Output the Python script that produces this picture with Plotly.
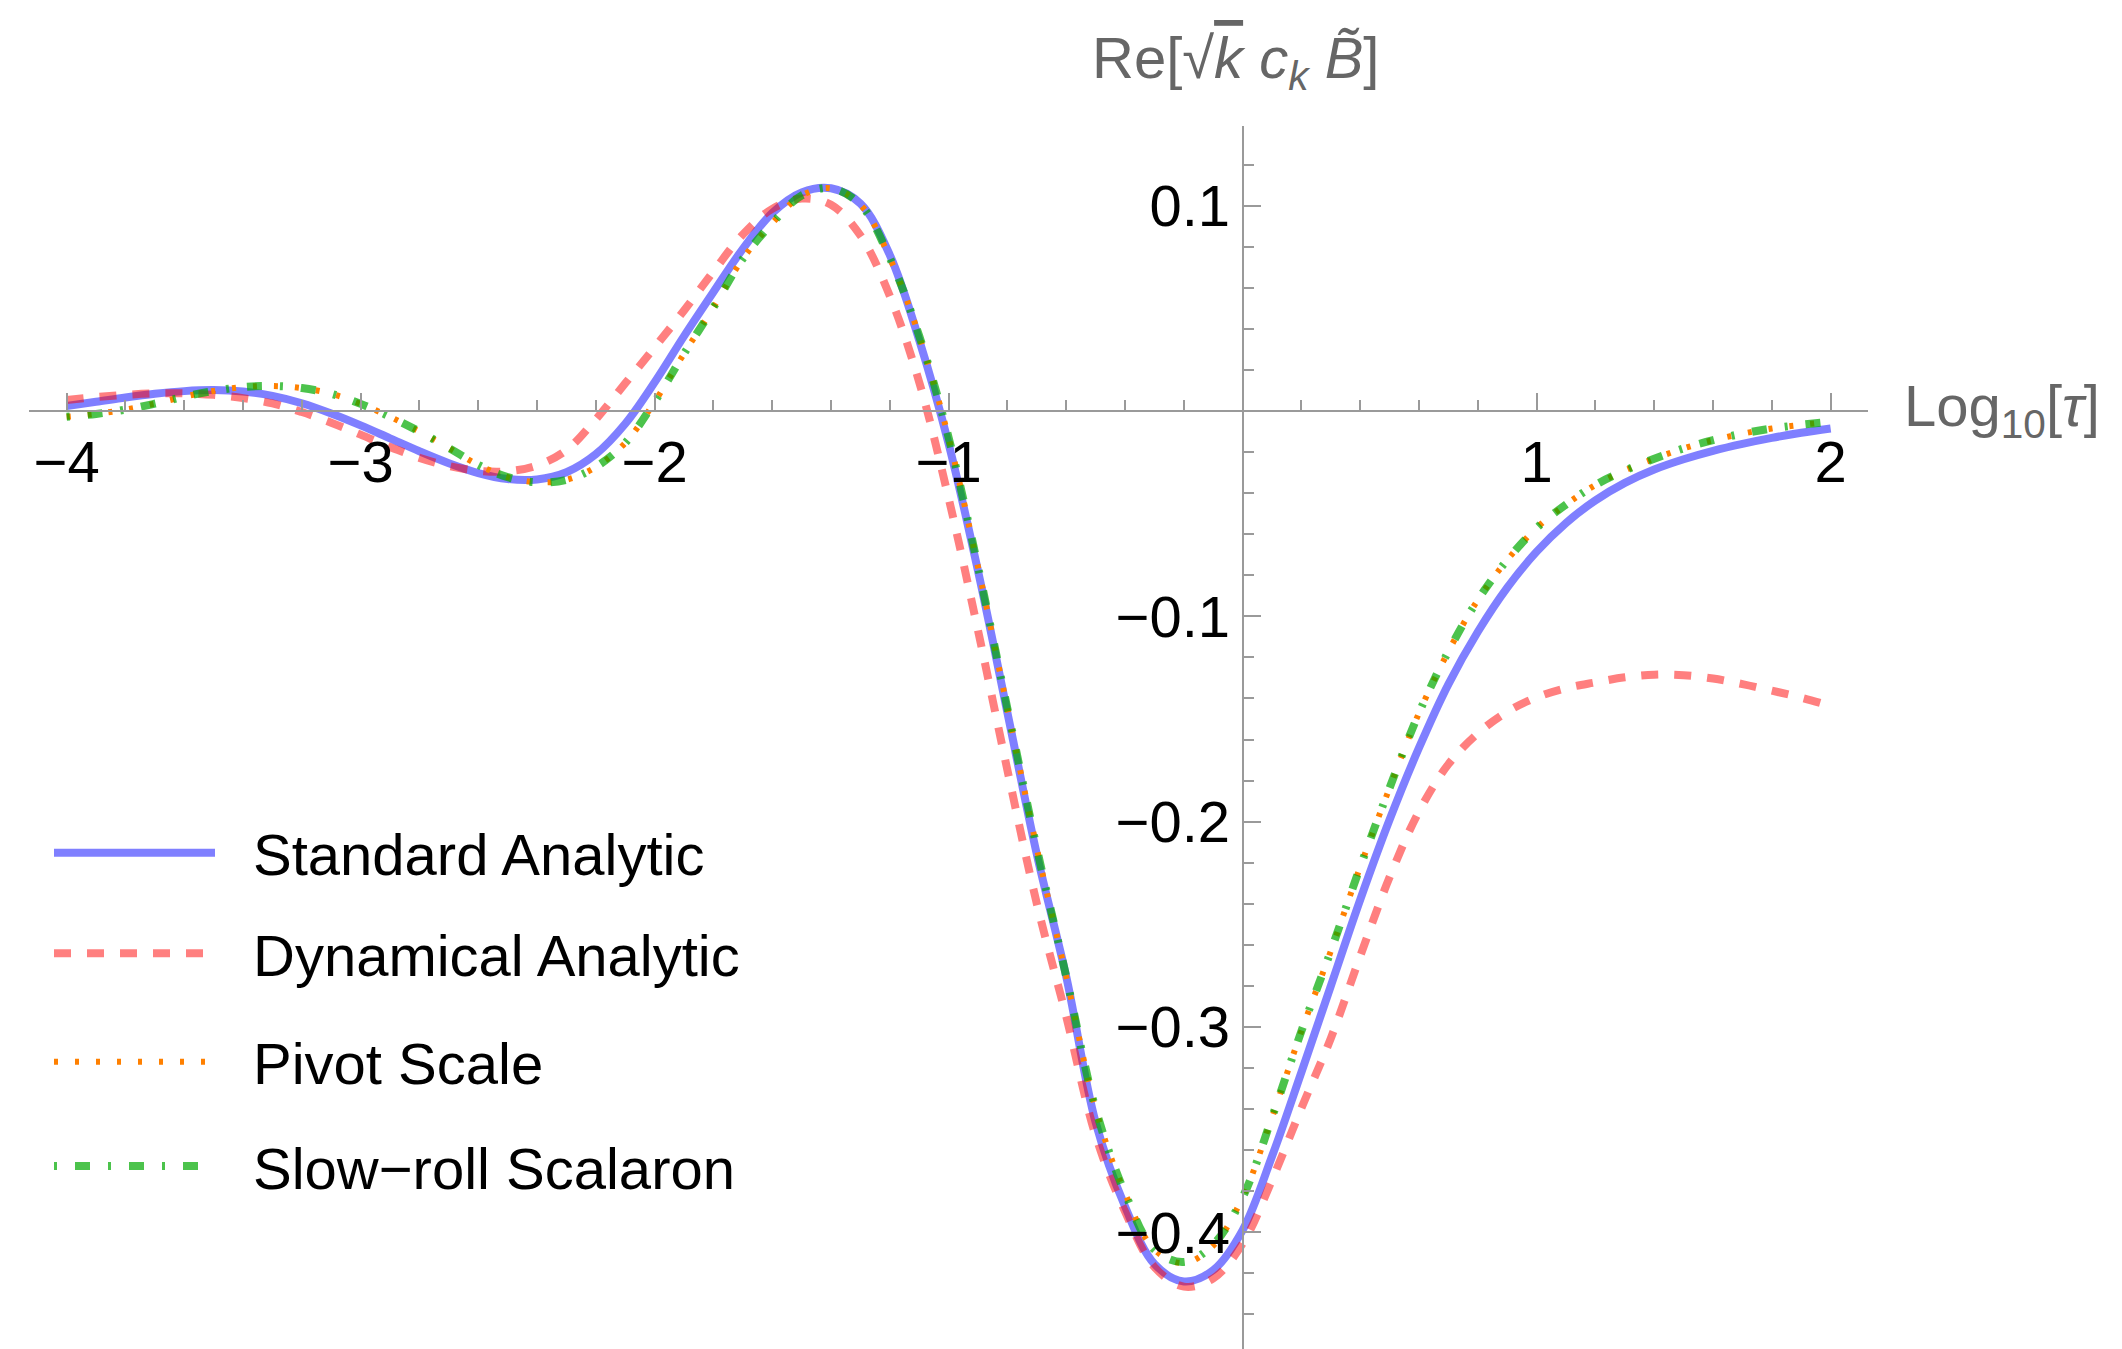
import plotly.graph_objects as go

# ---------------- data ----------------
log_tau = [round(-4.0 + 0.1 * i, 1) for i in range(61)]

standard_analytic = [
    0.0025, 0.0045, 0.0066, 0.0084, 0.0097, 0.0102, 0.0095, 0.0074, 0.0038, -0.0012,
    -0.0070, -0.0133, -0.0196, -0.0254, -0.0302, -0.0331, -0.0333, -0.0298, -0.0210, -0.0062,
    0.0140, 0.0365, 0.0580, 0.0790, 0.0965, 0.1065, 0.1085, 0.1010, 0.0760, 0.0345,
    -0.0160, -0.0780, -0.1470, -0.2160, -0.2755, -0.3465, -0.3875, -0.4155, -0.4240, -0.4185,
    -0.3990, -0.3630, -0.3220, -0.2800, -0.2380, -0.1990, -0.1640, -0.1330, -0.1075, -0.0860,
    -0.0685, -0.0545, -0.0435, -0.0350, -0.0285, -0.0235, -0.0194, -0.0160, -0.0131, -0.0106,
    -0.0085,
]

dynamical_analytic = [
    0.0054, 0.0068, 0.0079, 0.0086, 0.0086, 0.0079, 0.0063, 0.0037, -0.0005, -0.0057,
    -0.0115, -0.0175, -0.0228, -0.0268, -0.0291, -0.0293, -0.0265, -0.0190, -0.0040, 0.0135,
    0.0310, 0.0490, 0.0680, 0.0860, 0.0985, 0.1035, 0.1005, 0.0855, 0.0560, 0.0140,
    -0.0425, -0.1070, -0.1750, -0.2400, -0.2950, -0.3530, -0.3900, -0.4170, -0.4265, -0.4225,
    -0.4055, -0.3745, -0.3395, -0.3055, -0.2655, -0.2270, -0.1950, -0.1720, -0.1570, -0.1465,
    -0.1395, -0.1350, -0.1322, -0.1297, -0.1284, -0.1287, -0.1303, -0.1330, -0.1362, -0.1396,
    -0.1437,
]

pivot_scale = [
    -0.0028, -0.0014, 0.0007, 0.0036, 0.0070, 0.0098, 0.0117, 0.0122, 0.0112, 0.0084,
    0.0035, -0.0028, -0.0100, -0.0180, -0.0262, -0.0322, -0.0347, -0.0335, -0.0272, -0.0155,
    0.0045, 0.0280, 0.0505, 0.0742, 0.0915, 0.1050, 0.1085, 0.1005, 0.0745, 0.0365,
    -0.0130, -0.0760, -0.1450, -0.2130, -0.2755, -0.3400, -0.3810, -0.4085, -0.4150, -0.4065,
    -0.3830, -0.3440, -0.3020, -0.2630, -0.2220, -0.1835, -0.1470, -0.1170, -0.0920, -0.0725,
    -0.0570, -0.0455, -0.0360, -0.0290, -0.0232, -0.0182, -0.0142, -0.0110, -0.0085, -0.0067,
    -0.0052,
]

slow_roll_scalaron = [
    -0.0028, -0.0014, 0.0007, 0.0036, 0.0070, 0.0098, 0.0117, 0.0122, 0.0112, 0.0084,
    0.0035, -0.0028, -0.0100, -0.0180, -0.0262, -0.0322, -0.0347, -0.0335, -0.0272, -0.0155,
    0.0045, 0.0280, 0.0505, 0.0742, 0.0915, 0.1050, 0.1085, 0.1005, 0.0745, 0.0365,
    -0.0130, -0.0760, -0.1450, -0.2130, -0.2755, -0.3400, -0.3810, -0.4085, -0.4145, -0.4060,
    -0.3830, -0.3440, -0.3020, -0.2630, -0.2220, -0.1835, -0.1470, -0.1170, -0.0920, -0.0725,
    -0.0570, -0.0455, -0.0360, -0.0290, -0.0232, -0.0182, -0.0142, -0.0110, -0.0085, -0.0067,
    -0.0052,
]

series_names = ["Standard Analytic", "Dynamical Analytic", "Pivot Scale", "Slow\u2212roll Scalaron"]
x_tickvals = [-4, -3, -2, -1, 1, 2]
y_tickvals = [-0.4, -0.3, -0.2, -0.1, 0.1]

# ---------------- layout constants ----------------
W, H = 2122, 1349
X_RANGE = [-4.127, 2.126]
Y_RANGE = [-0.4569, 0.139]
X_DOM_PX = [29.3, 1867.7]     # left/right of plot area in px
Y_DOM_PX = [125.7, 1349.0]    # top/bottom of plot area in px

x_dom = [X_DOM_PX[0] / W, X_DOM_PX[1] / W]
y_dom = [1 - Y_DOM_PX[1] / H, 1 - Y_DOM_PX[0] / H]
xaxis_pos = y_dom[0] + (0 - Y_RANGE[0]) / (Y_RANGE[1] - Y_RANGE[0]) * (y_dom[1] - y_dom[0])
yaxis_pos = x_dom[0] + (0 - X_RANGE[0]) / (X_RANGE[1] - X_RANGE[0]) * (x_dom[1] - x_dom[0])

FONT = "Liberation Sans, Arial, Helvetica, sans-serif"
FS = 58
AXIS_GRAY = "#9a9a9a"
LABEL_GRAY = "#666666"

styles = [
    dict(color="rgba(0,0,255,0.5)", width=8, dash="solid"),
    dict(color="rgba(255,0,0,0.5)", width=8, dash="17px,16px"),
    dict(color="rgba(255,128,0,1)", width=6, dash="4px,17px"),
    dict(color="rgba(0,170,0,0.7)", width=8, dash="3px,18px,15px,18px"),
]

fig = go.Figure()
for name, ys, st in zip(series_names,
                        [standard_analytic, dynamical_analytic, pivot_scale, slow_roll_scalaron],
                        styles):
    fig.add_trace(go.Scatter(
        x=log_tau, y=ys, mode="lines", name=name, showlegend=False,
        line=dict(color=st["color"], width=st["width"], dash=st["dash"],
                  shape="spline", smoothing=1.0),
        hoverinfo="skip",
    ))


def px(x):
    return x / W


def py(y):
    return 1 - y / H


# ---- hand-built legend (long sample lines like the reference) ----
legend_rows_px = [852.7, 953.3, 1061.7, 1166.0]
for name, st, yrow in zip(series_names, styles, legend_rows_px):
    fig.add_shape(type="line", xref="paper", yref="paper",
                  x0=px(54), x1=px(215), y0=py(yrow), y1=py(yrow),
                  line=dict(color=st["color"], width=st["width"], dash=st["dash"]))
    fig.add_annotation(text=name, xref="paper", yref="paper",
                       x=px(251), y=py(yrow + 2), xanchor="left", yanchor="middle",
                       showarrow=False, font=dict(family=FONT, size=FS, color="black"))

# ---- axis labels ----
fig.add_annotation(text="Log<sub>10</sub>[<i>\u03c4</i>]", xref="paper", yref="paper",
                   x=px(1902), y=py(410), xanchor="left", yanchor="middle", showarrow=False,
                   font=dict(family=FONT, size=FS, color=LABEL_GRAY))
fig.add_annotation(text="Re[\u221a<span style='text-decoration:overline'><i>k</i></span> "
                        "<i>c</i><sub><i>k</i></sub> <i>B\u0303</i>]",
                   xref="paper", yref="paper",
                   x=px(1090), y=py(62), xanchor="left", yanchor="middle", showarrow=False,
                   font=dict(family=FONT, size=FS, color=LABEL_GRAY))

fig.update_layout(
    width=W, height=H,
    margin=dict(l=0, r=0, t=0, b=0),
    paper_bgcolor="white", plot_bgcolor="rgba(0,0,0,0)",
    showlegend=False,
    xaxis=dict(
        domain=x_dom, range=X_RANGE, anchor="free", position=xaxis_pos,
        showgrid=False, zeroline=False, showline=True, linecolor=AXIS_GRAY, linewidth=2,
        tickmode="array", tickvals=x_tickvals, ticks="inside", ticklen=17, tickwidth=2,
        tickcolor=AXIS_GRAY,
        minor=dict(tickmode="linear", tick0=0, dtick=0.2, ticks="inside", ticklen=10,
                   tickwidth=2, tickcolor=AXIS_GRAY),
        tickfont=dict(family=FONT, size=FS, color="black"),
    ),
    yaxis=dict(
        domain=y_dom, range=Y_RANGE, anchor="free", position=yaxis_pos,
        showgrid=False, zeroline=False, showline=True, linecolor=AXIS_GRAY, linewidth=2,
        tickmode="array", tickvals=y_tickvals, ticks="inside", ticklen=17, tickwidth=2,
        tickcolor=AXIS_GRAY,
        minor=dict(tickmode="linear", tick0=0, dtick=0.02, ticks="inside", ticklen=10,
                   tickwidth=2, tickcolor=AXIS_GRAY),
        tickfont=dict(family=FONT, size=FS, color="black"),
    ),
)

fig.write_html("out.html")
